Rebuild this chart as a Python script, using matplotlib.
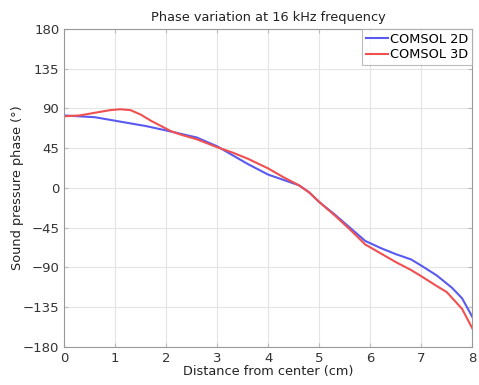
import numpy as np
import matplotlib.pyplot as plt

# distance from center (cm) and phase (deg)
x_2d = [0, 0.3, 0.6, 1.0, 1.3, 1.6, 2.0, 2.3, 2.6, 3.0, 3.3, 3.6, 4.0, 4.3, 4.6, 4.8,
        5.0, 5.3, 5.6, 5.9, 6.2, 6.5, 6.8, 7.0, 7.3, 7.6, 7.8, 8.0]
p_2d = [82, 81, 80, 76, 73, 70, 65, 61, 57, 47, 37, 27, 15, 9, 3, -5,
        -16, -30, -45, -60, -68, -75, -81, -88, -99, -113, -125, -146]

x_3d = [0, 0.3, 0.6, 0.9, 1.1, 1.3, 1.5, 1.7, 1.9, 2.1, 2.3, 2.6, 3.0, 3.3, 3.6, 4.0, 4.3,
        4.6, 4.8, 5.0, 5.3, 5.6, 5.9, 6.2, 6.5, 6.8, 7.0, 7.3, 7.5, 7.8, 8.0]
p_3d = [81, 82, 85, 88, 89, 88, 83, 76, 70, 64, 60, 55, 46, 40, 33, 22, 12,
        3, -5, -16, -31, -47, -64, -74, -84, -93, -100, -111, -118, -137, -159]

fig = plt.figure(figsize=(4.79, 3.85), dpi=100)
ax = fig.add_axes([0.134, 0.099, 0.852, 0.826])

ax.plot(x_2d, p_2d, color='#5a5af0', lw=1.5, label='COMSOL 2D')
ax.plot(x_3d, p_3d, color='#f05050', lw=1.5, label='COMSOL 3D')

ax.set_xlim(0, 8)
ax.set_ylim(-180, 180)
ax.set_xticks(range(0, 9))
ax.set_yticks(range(-180, 181, 45))
ax.grid(True, color='#e4e4e4', lw=0.8)
ax.tick_params(direction='in', labelsize=9.5, labelcolor='#333333', top=True, right=True,
               length=3, color='#bbbbbb')
for s in ax.spines.values():
    s.set_color('#999999')
    s.set_linewidth(0.8)

ax.set_title('Phase variation at 16 kHz frequency', fontsize=9.3, pad=6, color='#222222')
ax.set_xlabel('Distance from center (cm)', fontsize=9.3, labelpad=0, color='#222222')
ax.set_ylabel('Sound pressure phase (°)', fontsize=9.3, labelpad=-1, color='#222222')

leg = ax.legend(loc='upper right', fontsize=9.3, handlelength=1.7, handletextpad=0.2,
                borderpad=0.3, labelspacing=0.2, fancybox=False, borderaxespad=0.0)
leg.get_frame().set_edgecolor('#aaaaaa')
leg.get_frame().set_linewidth(0.8)

fig.savefig('out.png', dpi=100)
